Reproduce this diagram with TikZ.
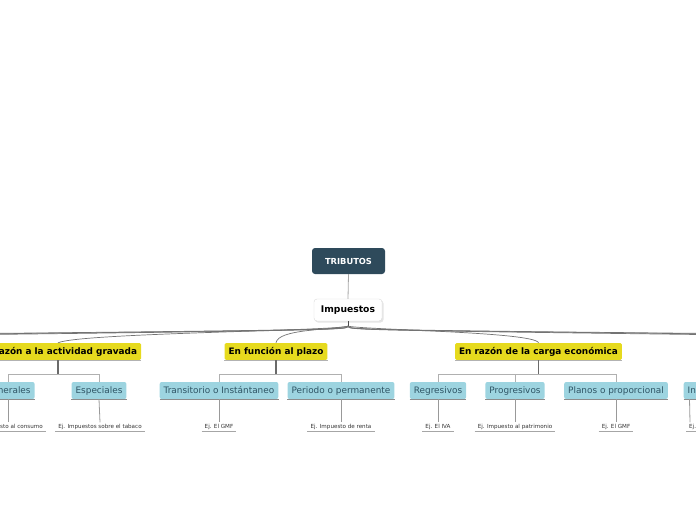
\documentclass[tikz,border=0pt]{standalone}
\usetikzlibrary{calc}
\usepackage{fontspec}
\setmainfont{DejaVu Sans}
\definecolor{rootc}{HTML}{2E4A5B}
\definecolor{yel}{HTML}{E6DA1E}
\definecolor{blu}{HTML}{9DD4E0}
\definecolor{blutext}{HTML}{2F5565}
\definecolor{lin}{HTML}{B0B0B0}
\definecolor{dlin}{HTML}{6A6A6A}
\tikzset{
  rootbox/.style={fill=rootc, rounded corners=3pt, minimum width=73pt, minimum height=26pt, text=white, text height=6pt, text depth=0pt, font=\fontsize{8.3}{9}\selectfont\bfseries},
  mainbox/.style={fill=white, draw=black!15, rounded corners=3pt, minimum width=68pt, minimum height=22pt, text height=6.8pt, text depth=1pt, font=\fontsize{9.2}{10}\selectfont\bfseries},
  catbox/.style={fill=yel, rounded corners=1.5pt, minimum height=17pt, inner xsep=4pt, inner ysep=0pt, text height=6.6pt, text depth=0.6pt, font=\fontsize{8.9}{9}\selectfont\bfseries},
  subbox/.style={fill=blu, rounded corners=2pt, minimum height=17pt, inner xsep=4pt, inner ysep=0pt, text=blutext, text height=6.6pt, text depth=0.4pt, font=\fontsize{8.9}{9}\selectfont},
  exbox/.style={inner xsep=3pt, inner ysep=1.8pt, text=black!80, font=\fontsize{5.6}{6}\selectfont},
  tree/.style={draw=lin, line width=0.9pt},
  stub/.style={draw=dlin, line width=1.3pt},
  curve/.style={draw=black!55, line width=0.7pt},
  base/.style={draw=black!35, line width=0.8pt}
}
\begin{document}
\begin{tikzpicture}[x=1pt,y=-1pt]
\useasboundingbox (0,0) rectangle (696,520);
\clip (0,0) rectangle (696,520);
% nodes
\node[rootbox] (root) at (348.5,261) {TRIBUTOS};
\fill[black!10, rounded corners=3pt] (315,300.5) rectangle (383.5,322.5);
\node[mainbox] (imp) at (348,310) {Impuestos};
\node[catbox] (c1) at (58,351.5) {En razón a la actividad gravada};
\node[catbox] (c2) at (276,351.5) {En función al plazo};
\node[catbox] (c3) at (538.5,351.5) {En razón de la carga económica};
\node[subbox] (s1) at (8,390.5) {Generales};
\node[subbox] (s2) at (99,390.5) {Especiales};
\node[subbox] (s3) at (219,390.5) {Transitorio o Instántaneo};
\node[subbox] (s4) at (341,390.5) {Periodo o permanente};
\node[subbox] (s5) at (438,390.5) {Regresivos};
\node[subbox] (s6) at (515,390.5) {Progresivos};
\node[subbox] (s7) at (616,390.5) {Planos o proporcional};
\node[subbox, anchor=west] (s8) at (683.5,390.5) {Indirectos};
\node[exbox] (e1) at (8,427) {Ej. Impuesto al consumo};
\node[exbox] (e2) at (100,427) {Ej. Impuestos sobre el tabaco};
\node[exbox] (e3) at (219,427) {Ej. El GMF};
\node[exbox] (e4) at (341,427) {Ej. Impuesto de renta};
\node[exbox] (e5) at (438,427) {Ej. El IVA};
\node[exbox] (e6) at (515,427) {Ej. Impuesto al patrimonio};
\node[exbox] (e7) at (616,427) {Ej. El GMF};
\node[exbox, anchor=west] (e8) at (686,427) {Ej. El impuesto};
% bottom lines
\foreach \n in {c1,c2,c3}{\draw[draw=black!30, line width=0.8pt] (\n.south west) -- (\n.south east);}
\foreach \n in {s1,s2,s3,s4,s5,s6,s7,s8}{\draw[draw=black!45, line width=0.8pt] (\n.south west) -- (\n.south east);}
\foreach \n in {e1,e2,e3,e4,e5,e6,e7,e8}{\draw[base] (\n.south west) -- (\n.south east);}
% root to main
\draw[draw=black!35, line width=0.8pt] (root.south) -- (imp.north);
% hub
\draw[draw=black!70, line width=1pt] (imp.south) -- ++(0,5) coordinate (hub);
% off-screen targets
\coordinate (L1) at (-300,338);
\coordinate (L2) at (-500,339);
\coordinate (L3) at (-700,340);
\coordinate (R1) at (900,337);
\coordinate (R2) at (1100,338);
\coordinate (R3) at (1300,339);
\foreach \t in {L1,L2,L3,R1,R2,R3}{\draw[curve] (hub) .. controls ($(hub)+(0,4)$) .. (\t);}
\draw[curve] (hub) .. controls (330,331) and (80,333) .. (c1.north);
\draw[curve] (hub) .. controls (330,330) and (278,329) .. (c2.north);
\draw[curve] (hub) .. controls (370,330) and (535,332) .. (c3.north);
% trees
\draw[stub] (c1.south) -- ++(0,14);
\draw[stub] (c2.south) -- ++(0,14);
\draw[stub] (c3.south) -- ++(0,14);
\draw[tree] (c1.south) ++(0,14) -| (s1.north);
\draw[tree] (c1.south) ++(0,14) -| (s2.north);
\draw[tree] (c2.south) ++(0,14) -| (s3.north);
\draw[tree] (c2.south) ++(0,14) -| (s4.north);
\draw[tree] (c3.south) ++(0,14) -| (s5.north);
\draw[tree] (c3.south) ++(0,14) -| (s6.north);
\draw[tree] (c3.south) ++(0,14) -| (s7.north);
\foreach \a/\b in {s1/e1,s2/e2,s3/e3,s4/e4,s5/e5,s6/e6,s7/e7}{\draw[draw=black!40, line width=0.8pt] (\a.south) -- (\b.north);}
\draw[draw=black!40, line width=0.8pt] ($(s8.south west)+(6,0)$) -- ($(e8.north west)+(4,0)$);
\end{tikzpicture}
\end{document}
